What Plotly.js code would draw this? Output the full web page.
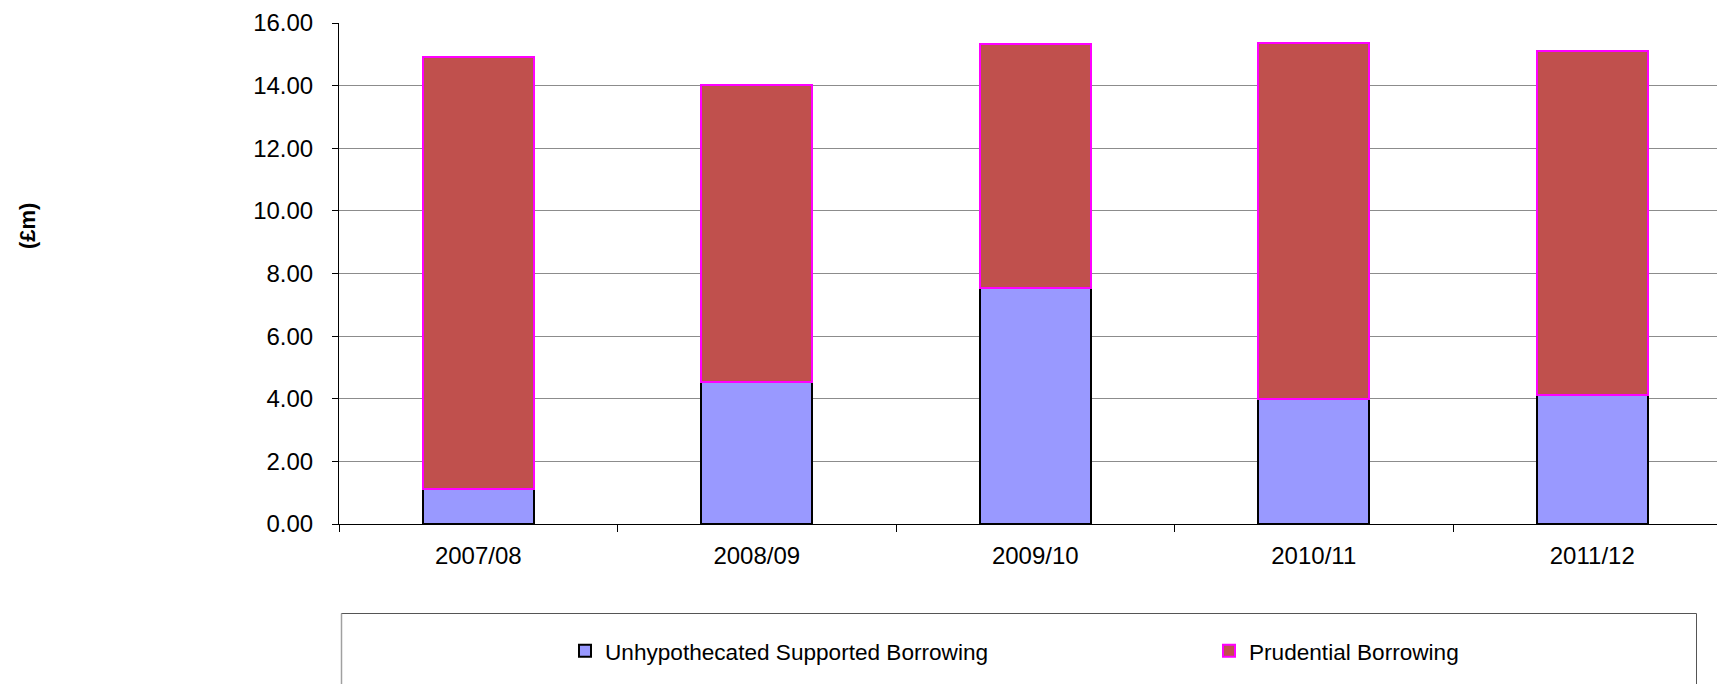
<!DOCTYPE html>
<html>
<head>
<meta charset="utf-8">
<script src="https://cdn.plot.ly/plotly-3.0.1.min.js"></script>
<style>html,body{margin:0;padding:0;background:#fff;}#chart{width:1717px;height:684px;}</style>
</head>
<body>
<div id="chart"></div>
<script>
const years = ["2007/08", "2008/09", "2009/10", "2010/11", "2011/12"];
const unhypothecated = [1.11, 4.52, 7.53, 3.99, 4.12];
const prudential = [13.82, 9.51, 7.81, 11.38, 10.97];
const seriesNames = ["Unhypothecated Supported Borrowing", "Prudential Borrowing"];
const yTicks = [0, 2, 4, 6, 8, 10, 12, 14, 16];

const FONT = "Liberation Sans, Arial, sans-serif";
const W = 1717, H = 684;
const L = 339, T = 23, B = 160, R = 0;
const plotW = W - L - R, plotH = H - T - B;
const catW = 278.5;
const px = x => (x - L) / plotW;
const py = y => (H - B - y) / plotH;

const traces = [
  {
    type: "bar", name: seriesNames[0], x: years, y: unhypothecated,
    marker: {color: "#9999FF", line: {color: "#000000", width: 2}},
    width: 0.4, hoverinfo: "y", legend: "legend"
  },
  {
    type: "bar", name: seriesNames[1], x: years, y: prudential,
    marker: {color: "#C0504D", line: {color: "#FF00FF", width: 2}},
    width: 0.4, hoverinfo: "y", legend: "legend2"
  }
];

const legendBase = {
  orientation: "h",
  xanchor: "left", yanchor: "middle",
  y: py(651),
  font: {family: FONT, size: 22.6, color: "#000000"},
  bgcolor: "rgba(0,0,0,0)", borderwidth: 0
};

const layout = {
  width: W, height: H,
  margin: {l: L, r: R, t: T, b: B, pad: 0},
  paper_bgcolor: "#ffffff", plot_bgcolor: "#ffffff",
  barmode: "stack",
  font: {family: FONT, color: "#000000"},
  showlegend: true,
  xaxis: {
    type: "category",
    range: [-0.5, -0.5 + plotW / catW],
    showgrid: false, zeroline: false,
    showline: true, linecolor: "#000000", linewidth: 1,
    ticks: "outside", tickson: "boundaries", ticklen: 7, tickcolor: "#000000", tickwidth: 1,
    tickfont: {family: FONT, size: 24, color: "#000000"},
    ticklabelstandoff: 10,
    fixedrange: true
  },
  yaxis: {
    range: [0, 16],
    tickvals: yTicks,
    tickformat: ".2f",
    showgrid: true, gridcolor: "#8c8c8c", gridwidth: 1,
    zeroline: false,
    showline: true, linecolor: "#000000", linewidth: 1,
    ticks: "outside", ticklen: 6, tickcolor: "#000000", tickwidth: 1,
    tickfont: {family: FONT, size: 24, color: "#000000"},
    ticklabelstandoff: 14,
    fixedrange: true
  },
  legend: Object.assign({}, legendBase, {x: px(565)}),
  legend2: Object.assign({}, legendBase, {x: px(1209)}),
  shapes: [
    {type: "rect", xref: "paper", yref: "paper",
     x0: px(341.5), x1: px(1696.5), y0: py(613.5), y1: py(700),
     line: {color: "#555555", width: 1}, fillcolor: "rgba(0,0,0,0)", layer: "below"},
    {type: "line", xref: "paper", yref: "paper",
     x0: px(341.5), x1: px(341.5), y0: py(613.5), y1: py(700),
     line: {color: "#a0a0a0", width: 1.5}, layer: "below"}
  ],
  annotations: [
    {text: "(£m)", xref: "paper", yref: "paper", x: px(27), y: py(226),
     xanchor: "center", yanchor: "middle", textangle: -90, showarrow: false,
     font: {family: FONT, size: 22, color: "#000000", weight: "bold"}}
  ]
};

Plotly.newPlot("chart", traces, layout, {displayModeBar: false, staticPlot: true});
</script>
</body>
</html>
